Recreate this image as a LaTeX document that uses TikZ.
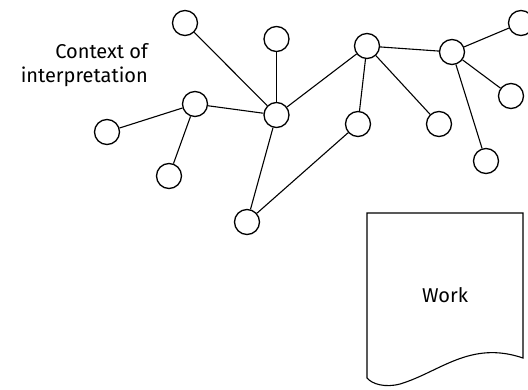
\documentclass[tikz,border=0pt]{standalone}
\usepackage{fontspec}
\setmainfont{Fira Sans}
\begin{document}
\begin{tikzpicture}[x=1pt,y=-1pt,
  dot/.style={circle,draw,line width=1.3pt,fill=white,minimum size=25pt,inner sep=0pt},
  link/.style={line width=1.1pt},
  lbl/.style={font=\fontsize{20}{24}\selectfont}]
\useasboundingbox (0,0) rectangle (528,389);
\node[dot] (A) at (185,23) {};
\node[dot] (B) at (276.5,39) {};
\node[dot] (C) at (195,104) {};
\node[dot] (D) at (107,132) {};
\node[dot] (E) at (169,176) {};
\node[dot] (F) at (276.5,115) {};
\node[dot] (G) at (367,46) {};
\node[dot] (H) at (358,124) {};
\node[dot] (I) at (439,124) {};
\node[dot] (J) at (452,52) {};
\node[dot] (K) at (521,23) {};
\node[dot] (L) at (511,96) {};
\node[dot] (M) at (486,161) {};
\node[dot] (N) at (247,222) {};
\foreach \a/\b in {A/F,B/F,C/F,C/D,C/E,F/G,F/N,N/H,H/G,G/I,G/J,J/K,J/L,J/M}
  \draw[link] (\a) -- (\b);
\node[lbl,align=right,anchor=east,inner sep=0pt] (ctx) at (148,65) {Context of\\interpretation};
\coordinate (w1) at (367,213);
\coordinate (w2) at (523,213);
\coordinate (w3) at (523,358);
\coordinate (w4) at (367,378);
\draw[line width=1.1pt] (w4) -- (w1) -- (w2) -- (w3)
  .. controls (470,340) and (440,372) .. (400,384)
  .. controls (385,388) and (372,384) .. (w4);
\node[lbl] (work) at (445,295) {Work};
\end{tikzpicture}
\end{document}
